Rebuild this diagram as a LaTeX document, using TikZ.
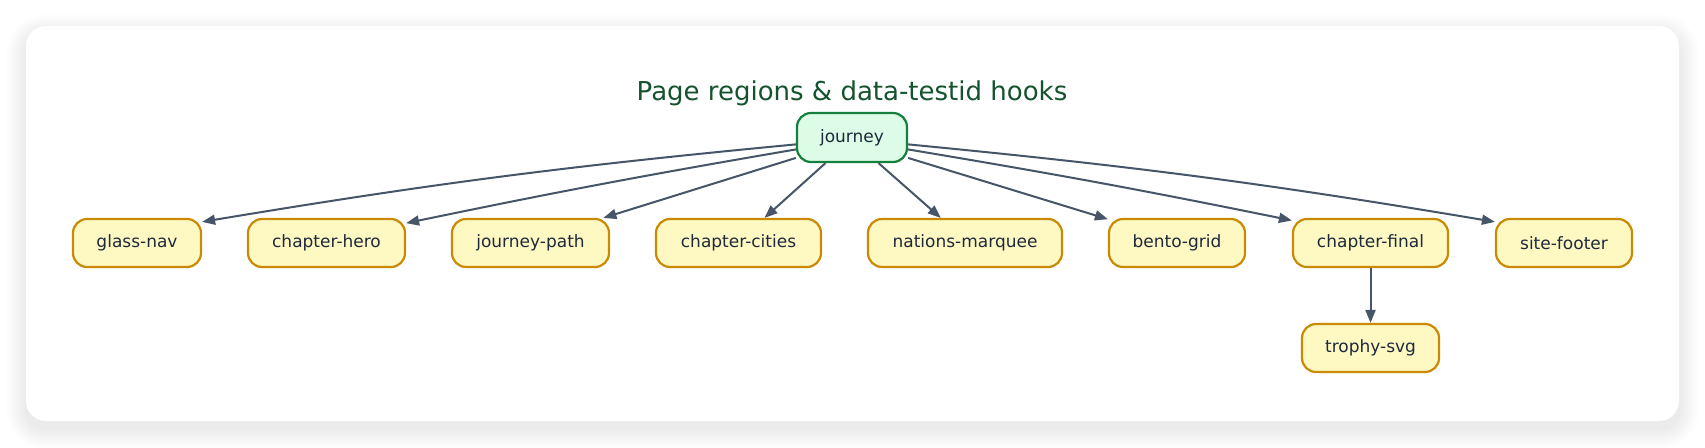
\documentclass[tikz,border=0pt]{standalone}
\usepackage{fontspec}
\setmainfont{DejaVu Sans}
\usetikzlibrary{arrows.meta}
\definecolor{leaffill}{HTML}{FEF9C3}
\definecolor{leafdraw}{HTML}{CA8A04}
\definecolor{rootfill}{HTML}{DCFCE7}
\definecolor{rootdraw}{HTML}{15803D}
\definecolor{edgec}{HTML}{475569}
\definecolor{nodetext}{HTML}{1E293B}
\definecolor{titlec}{HTML}{14532D}
\begin{document}
\begin{tikzpicture}[x=1pt,y=1pt,
  box/.style={line width=2.2pt, rounded corners=14pt, minimum height=48pt,
    inner sep=0pt, text=nodetext, font=\fontsize{17}{20}\selectfont},
  leaf/.style={box, draw=leafdraw, fill=leaffill},
  rootbox/.style={box, draw=rootdraw, fill=rootfill, minimum height=49pt},
  titlestyle/.style={text=titlec, inner sep=0pt, font=\fontsize{26}{30}\selectfont},
  edge/.style={draw=edgec, line width=2pt, -{Triangle[length=13pt,width=10pt]}}]
\useasboundingbox (0,0) rectangle (1705,-447);
% card shadow
\foreach \i [evaluate=\i as \r using 20+\i] in {1,...,20}
  \fill[black, opacity=0.0055, rounded corners=\r pt]
    (26-\i,-26+\i-8) rectangle (1679+\i,-421-\i-8);
\fill[white, rounded corners=20pt] (26,-26) rectangle (1679,-421);
% title
\node[titlestyle, anchor=base] (title) at (852,-100) {Page regions \& data-testid hooks};
% nodes
\node[rootbox, minimum width=110pt] (root) at (852,-137.5) {journey};
\node[leaf, minimum width=128pt] (gn) at (137,-243) {glass-nav};
\node[leaf, minimum width=157pt] (ch) at (326.5,-243) {chapter-hero};
\node[leaf, minimum width=157pt] (jp) at (530.5,-243) {journey-path};
\node[leaf, minimum width=165pt] (cc) at (738.5,-243) {chapter-cities};
\node[leaf, minimum width=194pt] (nm) at (965,-243) {nations-marquee};
\node[leaf, minimum width=136pt] (bg) at (1177,-243) {bento-grid};
\node[leaf, minimum width=155pt] (cf) at (1370.5,-243) {chapter-final};
\node[leaf, minimum width=136pt] (sf) at (1564,-243) {site-footer};
\node[leaf, minimum width=137pt] (ts) at (1370.5,-348) {trophy-svg};
% edges
\draw[edge] (root.187) to[bend right=2] (gn.18);
\draw[edge] (root.192) to[bend right=1] (ch.14);
\draw[edge] (root.200) -- (jp.19);
\draw[edge] (root.224) -- (cc.44);
\draw[edge] (root.316) -- (nm.134);
\draw[edge] (root.340) -- (bg.161);
\draw[edge] (root.348) to[bend left=1] (cf.164);
\draw[edge] (root.353) to[bend left=2] (sf.163);
\draw[edge] (cf.south) -- (ts.north);
\end{tikzpicture}
\end{document}
